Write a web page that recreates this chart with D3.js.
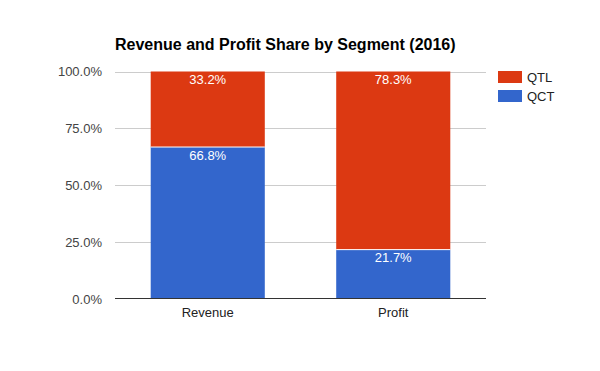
<!DOCTYPE html>
<html><head><meta charset="utf-8">
<script src="https://cdn.jsdelivr.net/npm/d3@7"></script>
<style>body{margin:0;background:#fff}svg{display:block;font-family:"Liberation Sans",Arial,sans-serif}</style>
</head><body>
<svg id="c" width="600" height="371"></svg>
<script>
const categories = ["Revenue", "Profit"];
const seriesNames = ["QCT", "QTL"];
const qct = [66.8, 21.7];
const qtl = [33.2, 78.3];
const yTicks = [0, 25, 50, 75, 100];
const colors = {QCT: "#3366cc", QTL: "#dc3912"};

const svg = d3.select("#c");
const m = {left: 115, right: 486, top: 71.5, bottom: 299};
const x = d3.scaleBand().domain(categories).range([m.left, m.right]).paddingInner(0.385).paddingOuter(0.1925);
const y = d3.scaleLinear().domain([0, 100]).range([m.bottom, m.top]);

svg.append("text").attr("x", 115).attr("y", 50).attr("font-size", 16).attr("font-weight", "bold").attr("fill", "#000")
  .text("Revenue and Profit Share by Segment (2016)");

const g = svg.append("g");
g.selectAll("line.grid").data(yTicks.filter(d => d > 0)).join("line")
  .attr("x1", m.left).attr("x2", m.right).attr("y1", d => Math.round(y(d)) + 0.5).attr("y2", d => Math.round(y(d)) + 0.5)
  .attr("stroke", "#cccccc");
g.selectAll("text.yt").data(yTicks).join("text")
  .attr("x", 102).attr("y", d => y(d) + 4.5).attr("text-anchor", "end").attr("font-size", 13).attr("fill", "#444")
  .text(d => d.toFixed(1) + "%");

const rows = categories.map((c, i) => ({cat: c, QCT: qct[i], QTL: qtl[i]}));
const stack = d3.stack().keys(seriesNames)(rows);
stack.forEach(s => {
  const key = s.key;
  g.selectAll("rect." + key).data(s).join("rect")
    .attr("x", d => x(d.data.cat)).attr("width", x.bandwidth())
    .attr("y", d => y(d[1])).attr("height", d => y(d[0]) - y(d[1]))
    .attr("fill", colors[key]);
  g.selectAll("text.l" + key).data(s).join("text")
    .attr("x", d => x(d.data.cat) + x.bandwidth() / 2).attr("y", d => y(d[1]) + 12.5)
    .attr("text-anchor", "middle").attr("font-size", 13).attr("fill", "#fff")
    .text(d => (d[1] - d[0]).toFixed(1) + "%");
});
// white separators
g.selectAll("line.sep").data(stack[0]).join("line")
  .attr("x1", d => x(d.data.cat)).attr("x2", d => x(d.data.cat) + x.bandwidth())
  .attr("y1", d => y(d[1])).attr("y2", d => y(d[1])).attr("stroke", "#fff").attr("stroke-width", 1);

g.append("line").attr("x1", m.left).attr("x2", m.right).attr("y1", m.bottom - 0.5).attr("y2", m.bottom - 0.5)
  .attr("stroke", "#333").attr("stroke-width", 1);
g.selectAll("text.xt").data(categories).join("text")
  .attr("x", d => x(d) + x.bandwidth() / 2).attr("y", 317).attr("text-anchor", "middle").attr("font-size", 13).attr("fill", "#222")
  .text(d => d);

const legend = ["QTL", "QCT"];
const lg = svg.append("g");
legend.forEach((k, i) => {
  lg.append("rect").attr("x", 498).attr("y", 71 + i * 19).attr("width", 24).attr("height", 12).attr("fill", colors[k]);
  lg.append("text").attr("x", 527).attr("y", 82 + i * 19).attr("font-size", 13).attr("fill", "#222").text(k);
});
</script>
</body></html>
